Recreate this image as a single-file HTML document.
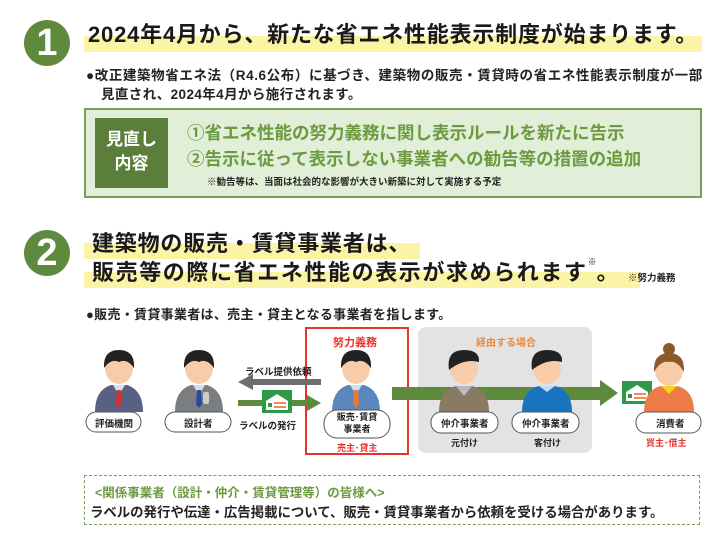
<!DOCTYPE html>
<html><head><meta charset="utf-8">
<style>
body{margin:0;width:720px;height:540px;background:#fff;position:relative;overflow:hidden;font-family:"Liberation Sans","Noto Sans CJK JP",sans-serif;color:#222}
.a{position:absolute;white-space:nowrap}
.circ{position:absolute;width:46px;height:46px;border-radius:50%;background:#5f8a3d;color:#fff;font-weight:bold;font-size:38px;line-height:46px;text-align:center}
.hl{position:absolute;background:#fbf3a6}
.t{font-weight:bold;font-size:22px;color:#1a1a1a}
</style></head><body>
<div class="circ" style="left:24px;top:20px">1</div>
<div class="hl" style="left:84px;top:36px;width:618px;height:16px"></div>
<div class="a t" style="left:88px;top:17px;letter-spacing:0.8px">2024年4月から、新たな省エネ性能表示制度が始まります。</div>
<div class="a" style="left:86px;top:64px;font-size:13.5px;font-weight:bold;letter-spacing:0.6px">●改正建築物省エネ法（R4.6公布）に基づき、建築物の販売・賃貸時の省エネ性能表示制度が一部</div>
<div class="a" style="left:101px;top:83px;font-size:13.5px;font-weight:bold;letter-spacing:0.4px">見直され、2024年4月から施行されます。</div>

<div class="a" style="left:84px;top:108px;width:614px;height:86px;background:#e2efd8;border:2px solid #7b9d5a"></div>
<div class="a" style="left:95px;top:118px;width:73px;height:70px;background:#5b7f3b;color:#fff;font-weight:bold;font-size:17px;line-height:24px;text-align:center;padding-top:10px;box-sizing:border-box">見直し<br>内容</div>
<div class="a" style="left:187px;top:120px;font-size:17.5px;font-weight:bold;color:#6b9a3f">①省エネ性能の努力義務に関し表示ルールを新たに告示</div>
<div class="a" style="left:187px;top:146px;font-size:17.5px;font-weight:bold;color:#6b9a3f">②告示に従って表示しない事業者への勧告等の措置の追加</div>
<div class="a" style="left:207px;top:174px;font-size:9.5px;font-weight:bold">※勧告等は、当面は社会的な影響が大きい新築に対して実施する予定</div>

<div class="circ" style="left:24px;top:230px">2</div>
<div class="hl" style="left:84px;top:243px;width:336px;height:16px"></div>
<div class="hl" style="left:84px;top:272px;width:556px;height:16px"></div>
<div class="a t" style="left:92px;top:226px;letter-spacing:0.8px">建築物の販売・賃貸事業者は、</div>
<div class="a t" style="left:92px;top:255px;letter-spacing:1.6px">販売等の際に省エネ性能の表示が求められます<span style="font-size:9px;vertical-align:top;letter-spacing:0">※</span>。</div>
<div class="a" style="left:628px;top:270px;font-size:9.5px;font-weight:bold">※努力義務</div>
<div class="a" style="left:86px;top:304px;font-size:13px;font-weight:bold;letter-spacing:0.3px">●販売・賃貸事業者は、売主・貸主となる事業者を指します。</div>

<div class="a" style="left:418px;top:327px;width:174px;height:126px;background:#e3e3e3;border-radius:8px"></div>
<div class="a" style="left:305px;top:327px;width:100px;height:124px;border:2px solid #e8332d"></div>
<div class="a" style="left:333px;top:334px;font-size:11px;font-weight:bold;color:#e8332d">努力義務</div>
<div class="a" style="left:476px;top:334px;font-size:10px;font-weight:bold;color:#f08a3a">経由する場合</div>

<svg class="a" style="left:0;top:0" width="720" height="540">
<defs>
<g id="lbl"><rect x="0" y="0" width="30" height="23" fill="#2e9a48"/><path d="M4 11 L15 4 L26 11 L26 20 L4 20Z" fill="#fff"/><rect x="6" y="13" width="4" height="4" fill="#2e9a48"/><g fill="#f08a5a"><rect x="12" y="12" width="12" height="2"/><rect x="12" y="16" width="12" height="2"/></g></g>
</defs>
<rect x="252" y="379" width="69" height="6" fill="#6e6e6e"/><path d="M238 382 L253 374 L253 390Z" fill="#6e6e6e"/>
<rect x="238" y="400" width="70" height="6" fill="#5d8a3c"/><path d="M321 403 L307 395 L307 411Z" fill="#5d8a3c"/>
<use href="#lbl" x="262" y="390"/>
<rect x="392" y="387" width="210" height="13" fill="#5d8a3c"/><path d="M618 393 L600 380 L600 406Z" fill="#5d8a3c"/>
<use href="#lbl" x="622" y="381"/>
<g transform="translate(119,0)"><path d="M-24 412 Q-24 390 -8 385 L8 385 Q24 390 24 412Z" fill="#5a5f84"/><path d="M-6 385 L0 395 L6 385Z" fill="#cfe0f0"/><path d="M-2 390 L2 390 L3 404 L0 408 L-3 404Z" fill="#d4322c"/><ellipse cx="0" cy="368" rx="14" ry="16" fill="#f8cba9"/><path d="M-15 368 Q-16 350 0 350 Q16 350 15 368 Q8 358 0 362 Q-8 358 -15 368Z" fill="#222"/></g>
<g transform="translate(199,0)"><path d="M-24 412 Q-24 390 -8 385 L8 385 Q24 390 24 412Z" fill="#7b7e80"/><path d="M-6 385 L0 395 L6 385Z" fill="#cfe0f0"/><path d="M-2 390 L2 390 L3 404 L0 408 L-3 404Z" fill="#2a4aa0"/><rect x="4" y="392" width="6" height="12" rx="2" fill="#ccc"/><ellipse cx="0" cy="368" rx="14" ry="16" fill="#f8cba9"/><path d="M-15 368 Q-16 350 0 350 Q16 350 15 368 Q8 358 0 362 Q-8 358 -15 368Z" fill="#222"/></g>
<g transform="translate(356,0)"><path d="M-24 412 Q-24 390 -8 385 L8 385 Q24 390 24 412Z" fill="#5b87bd"/><path d="M-6 385 L0 395 L6 385Z" fill="#cfe0f0"/><path d="M-2 390 L2 390 L3 404 L0 408 L-3 404Z" fill="#e87a30"/><ellipse cx="0" cy="368" rx="14" ry="16" fill="#f8cba9"/><path d="M-15 368 Q-16 350 0 350 Q16 350 15 368 Q8 358 0 362 Q-8 358 -15 368Z" fill="#222"/></g>
<g transform="translate(464,0)"><path d="M-25 412 Q-25 390 -8 386 L8 386 Q25 390 25 412Z" fill="#8a7965"/><path d="M-8 386 L0 396 L8 386Z" fill="#bbb"/><ellipse cx="0" cy="368" rx="14" ry="16" fill="#f8cba9"/><path d="M-15 370 Q-18 350 0 350 Q16 350 15 362 Q0 358 -15 370Z" fill="#222"/></g>
<g transform="translate(547,0)"><path d="M-25 412 Q-25 390 -8 386 L8 386 Q25 390 25 412Z" fill="#1a73bf"/><path d="M-8 386 L0 392 L8 386Z" fill="#bfe0f0"/><ellipse cx="0" cy="368" rx="14" ry="16" fill="#f8cba9"/><path d="M-15 370 Q-18 350 0 350 Q16 350 15 362 Q0 358 -15 370Z" fill="#222"/></g>
<g transform="translate(669,0)"><path d="M-25 412 Q-25 390 -8 386 L8 386 Q25 390 25 412Z" fill="#ee7a47"/><path d="M-8 386 L0 394 L8 386Z" fill="#f5d020"/><ellipse cx="0" cy="370" rx="14" ry="16" fill="#f8cba9"/><circle cx="0" cy="349" r="6" fill="#8b5a2b"/><path d="M-15 372 Q-16 353 0 353 Q16 353 15 372 Q8 360 0 362 Q-8 360 -15 372Z" fill="#8b5a2b"/></g>
<g fill="#fff" stroke="#555" stroke-width="1"><rect x="86" y="412" width="55" height="20" rx="10"/><rect x="165" y="412" width="66" height="20" rx="10"/><rect x="324" y="410" width="66" height="28" rx="13"/><rect x="431" y="412" width="67" height="21" rx="10"/><rect x="512" y="412" width="67" height="21" rx="10"/><rect x="636" y="412" width="65" height="21" rx="10"/></g>
</svg>
<div class="a" style="left:245px;top:364px;font-size:9.5px;font-weight:bold">ラベル提供依頼</div>
<div class="a" style="left:239px;top:418px;font-size:9.5px;font-weight:bold">ラベルの発行</div>
<div class="a" style="left:95px;top:416px;font-size:9.5px;font-weight:bold">評価機関</div>
<div class="a" style="left:184px;top:416px;font-size:9.5px;font-weight:bold">設計者</div>
<div class="a" style="left:324px;top:411px;width:66px;text-align:center;font-size:9px;font-weight:bold;line-height:12px">販売･賃貸<br>事業者</div>
<div class="a" style="left:337px;top:441px;font-size:9px;font-weight:bold;color:#e8332d">売主･貸主</div>
<div class="a" style="left:441px;top:416px;font-size:9.5px;font-weight:bold">仲介事業者</div>
<div class="a" style="left:522px;top:416px;font-size:9.5px;font-weight:bold">仲介事業者</div>
<div class="a" style="left:451px;top:436px;font-size:9px;font-weight:bold">元付け</div>
<div class="a" style="left:534px;top:436px;font-size:9px;font-weight:bold">客付け</div>
<div class="a" style="left:656px;top:416px;font-size:9.5px;font-weight:bold">消費者</div>
<div class="a" style="left:646px;top:436px;font-size:9px;font-weight:bold;color:#e8332d">買主･借主</div>

<div class="a" style="left:84px;top:475px;width:614px;height:48px;border:1.5px dashed #7b9d5a"></div>
<div class="a" style="left:95px;top:482px;font-size:12.5px;font-weight:bold;color:#6b9a3f">&lt;関係事業者（設計・仲介・賃貸管理等）の皆様へ&gt;</div>
<div class="a" style="left:90px;top:501px;font-size:13.4px;font-weight:bold">ラベルの発行や伝達・広告掲載について、販売・賃貸事業者から依頼を受ける場合があります。</div>
</body></html>
